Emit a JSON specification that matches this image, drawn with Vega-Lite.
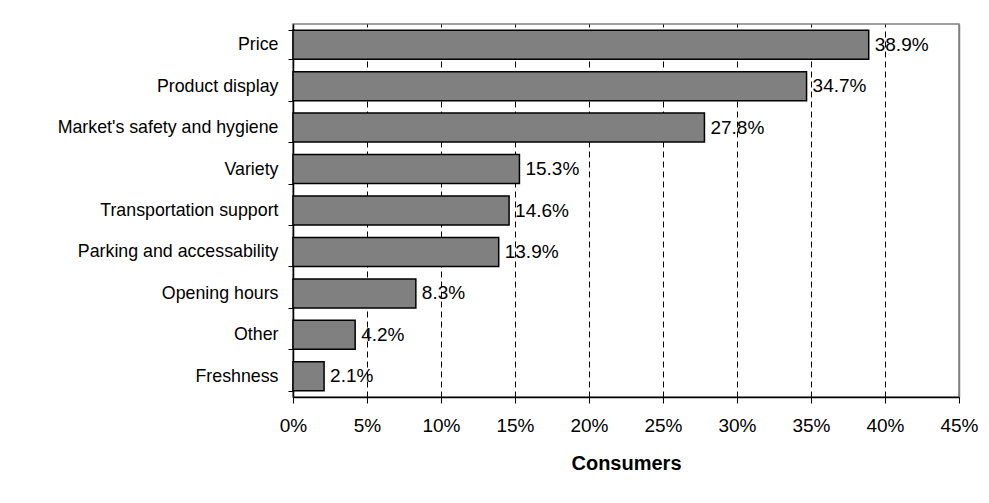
{
  "$schema": "https://vega.github.io/schema/vega-lite/v6.json",
  "autosize": {"type": "none"},
  "width": 666,
  "height": 373,
  "padding": {"left": 293, "top": 24, "right": 30, "bottom": 106},
  "background": "white",
  "config": {
    "font": "Liberation Sans",
    "view": {"stroke": "#808080", "strokeWidth": 1.5}
  },
  "data": {
    "values": [
      {"factor": "Price", "share": 0.389},
      {"factor": "Product display", "share": 0.347},
      {"factor": "Market's safety and hygiene", "share": 0.278},
      {"factor": "Variety", "share": 0.153},
      {"factor": "Transportation support", "share": 0.146},
      {"factor": "Parking and accessability", "share": 0.139},
      {"factor": "Opening hours", "share": 0.083},
      {"factor": "Other", "share": 0.042},
      {"factor": "Freshness", "share": 0.021}
    ]
  },
  "encoding": {
    "y": {
      "field": "factor",
      "type": "nominal",
      "sort": null,
      "scale": {"paddingInner": 0.3, "paddingOuter": 0.15},
      "axis": {
        "title": null,
        "domainColor": "black",
        "domainWidth": 1.5,
        "tickColor": "black",
        "tickSize": 5,
        "tickBand": "extent",
        "labelFontSize": 17.8,
        "labelColor": "black",
        "labelPadding": 10,
        "labelLimit": 400
      }
    },
    "x": {
      "field": "share",
      "type": "quantitative",
      "scale": {"domain": [0, 0.45], "nice": false},
      "axis": {
        "title": "Consumers",
        "titleFontSize": 20,
        "titleFontWeight": "bold",
        "titleColor": "black",
        "titlePadding": 18,
        "format": ".0%",
        "values": [0, 0.05, 0.1, 0.15, 0.2, 0.25, 0.3, 0.35, 0.4, 0.45],
        "labelFlush": false,
        "labelOverlap": false,
        "domainColor": "black",
        "domainWidth": 1.5,
        "tickColor": "black",
        "tickSize": 6,
        "labelFontSize": 19,
        "labelColor": "black",
        "labelPadding": 13,
        "grid": true,
        "gridColor": {"condition": {"test": "datum.value >= 0.449", "value": "#808080"}, "value": "black"},
        "gridDash": {"condition": {"test": "datum.value >= 0.449", "value": []}, "value": [6, 4]},
        "gridWidth": {"condition": {"test": "datum.value >= 0.449", "value": 1.5}, "value": 1}
      }
    }
  },
  "layer": [
    {
      "mark": {"type": "bar", "fill": "#808080", "stroke": "black", "strokeWidth": 1.5}
    },
    {
      "mark": {"type": "text", "align": "left", "baseline": "middle", "dx": 6, "fontSize": 19, "color": "black"},
      "encoding": {
        "text": {"field": "share", "type": "quantitative", "format": ".1%"}
      }
    }
  ]
}
